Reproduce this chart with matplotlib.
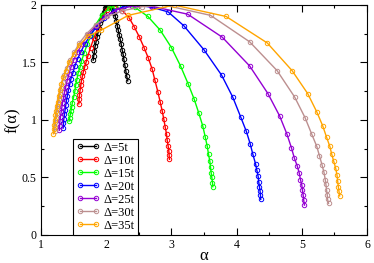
import matplotlib
matplotlib.use("Agg")
import matplotlib.pyplot as plt
from matplotlib.ticker import MultipleLocator

plt.rcParams["font.family"] = ["Liberation Serif", "DejaVu Serif"]

labels = ["Δ=5t", "Δ=10t", "Δ=15t", "Δ=20t", "Δ=25t", "Δ=30t", "Δ=35t"]
colors = ["#000000", "#ff0000", "#00ff00", "#0000ff", "#9400d3", "#bc8f8f", "#ffa500"]

# Δ=5t
a5 = [1.80, 1.81, 1.82, 1.83, 1.845, 1.86, 1.875, 1.89, 1.905, 1.92, 1.94, 1.96, 1.98, 2.00, 2.02,
      2.05, 2.08, 2.105, 2.125, 2.14, 2.155, 2.17, 2.185, 2.20, 2.215, 2.23, 2.245, 2.26, 2.27,
      2.285, 2.30, 2.315, 2.33]
f5 = [1.52, 1.56, 1.60, 1.64, 1.68, 1.72, 1.76, 1.80, 1.84, 1.87, 1.91, 1.94, 1.97, 1.99, 2.00,
      1.995, 1.98, 1.96, 1.93, 1.90, 1.86, 1.82, 1.78, 1.74, 1.70, 1.66, 1.61, 1.57, 1.53,
      1.48, 1.43, 1.38, 1.34]

# Δ=10t
a10 = [1.58, 1.585, 1.59, 1.60, 1.61, 1.62, 1.635, 1.65, 1.67, 1.69, 1.72, 1.76, 1.81, 1.87, 1.94,
       2.01, 2.07, 2.14, 2.25, 2.35, 2.43, 2.51, 2.58, 2.645, 2.705, 2.746, 2.792, 2.827, 2.858,
       2.884, 2.904, 2.925, 2.935, 2.95, 2.96, 2.965, 2.97]
f10 = [1.14, 1.18, 1.22, 1.26, 1.30, 1.34, 1.38, 1.42, 1.46, 1.50, 1.56, 1.63, 1.71, 1.80, 1.89,
       1.96, 2.00, 1.99, 1.95, 1.89, 1.81, 1.72, 1.63, 1.54, 1.443, 1.348, 1.246, 1.159, 1.081,
       1.006, 0.942, 0.878, 0.826, 0.774, 0.733, 0.696, 0.658]

# Δ=15t
a15 = [1.43, 1.44, 1.45, 1.46, 1.47, 1.48, 1.50, 1.52, 1.53, 1.55, 1.57, 1.60, 1.62, 1.66, 1.71,
       1.77, 1.84, 1.93, 2.04, 2.14, 2.24, 2.44, 2.64, 2.83, 3.00, 3.14, 3.26, 3.35, 3.42, 3.48,
       3.52, 3.55, 3.57, 3.59, 3.60, 3.61, 3.62, 3.63, 3.635]
f15 = [0.99, 1.02, 1.05, 1.08, 1.11, 1.15, 1.20, 1.25, 1.30, 1.35, 1.41, 1.46, 1.51, 1.58, 1.66,
       1.74, 1.83, 1.91, 1.97, 1.995, 2.00, 1.98, 1.90, 1.78, 1.63, 1.47, 1.31, 1.18, 1.06, 0.95,
       0.85, 0.77, 0.70, 0.64, 0.59, 0.54, 0.50, 0.455, 0.42]

# Δ=20t
a20 = [1.34, 1.345, 1.35, 1.36, 1.37, 1.38, 1.39, 1.405, 1.42, 1.44, 1.46, 1.49, 1.52, 1.56, 1.61,
       1.67, 1.75, 1.85, 1.97, 2.12, 2.28, 2.46, 2.70, 2.95, 3.19, 3.50, 3.77, 3.94, 4.06, 4.15,
       4.21, 4.25, 4.29, 4.31, 4.33, 4.34, 4.35, 4.36, 4.365, 4.37]
f20 = [0.93, 0.97, 1.01, 1.05, 1.09, 1.13, 1.17, 1.21, 1.26, 1.31, 1.36, 1.41, 1.47, 1.53, 1.59,
       1.66, 1.73, 1.81, 1.89, 1.95, 1.99, 2.00, 1.98, 1.94, 1.82, 1.61, 1.39, 1.20, 1.03, 0.90,
       0.79, 0.70, 0.62, 0.565, 0.51, 0.46, 0.42, 0.38, 0.35, 0.31]

# Δ=25t
a25 = [1.28, 1.285, 1.29, 1.30, 1.31, 1.32, 1.33, 1.345, 1.36, 1.38, 1.40, 1.43, 1.46, 1.50, 1.56,
       1.63, 1.72, 1.84, 1.99, 2.17, 2.40, 2.69, 3.25, 3.78, 4.20, 4.48, 4.66, 4.77, 4.84, 4.885,
       4.93, 4.96, 4.98, 5.00, 5.01, 5.02, 5.03, 5.04]
f25 = [0.91, 0.95, 0.99, 1.03, 1.07, 1.11, 1.15, 1.19, 1.24, 1.29, 1.34, 1.40, 1.46, 1.52, 1.59,
       1.66, 1.74, 1.82, 1.90, 1.96, 1.99, 1.99, 1.92, 1.72, 1.47, 1.23, 1.035, 0.88, 0.76, 0.67,
       0.60, 0.54, 0.48, 0.435, 0.39, 0.35, 0.30, 0.26]

# Δ=30t
a30 = [1.21, 1.215, 1.22, 1.23, 1.24, 1.25, 1.26, 1.275, 1.29, 1.31, 1.33, 1.36, 1.40, 1.45, 1.51,
       1.59, 1.70, 1.84, 2.02, 2.25, 2.55, 2.89, 3.60, 4.20, 4.62, 4.89, 5.05, 5.15, 5.23, 5.27,
       5.31, 5.34, 5.36, 5.37, 5.38, 5.39, 5.395, 5.41]
f30 = [0.90, 0.94, 0.98, 1.02, 1.06, 1.10, 1.14, 1.18, 1.23, 1.28, 1.33, 1.39, 1.45, 1.52, 1.59,
       1.67, 1.75, 1.83, 1.90, 1.95, 1.985, 2.00, 1.91, 1.68, 1.43, 1.20, 1.02, 0.88, 0.77, 0.69,
       0.61, 0.545, 0.48, 0.44, 0.39, 0.35, 0.31, 0.275]

# Δ=35t
a35 = [1.19, 1.195, 1.20, 1.21, 1.22, 1.23, 1.24, 1.255, 1.27, 1.29, 1.31, 1.34, 1.38, 1.43, 1.50,
       1.59, 1.72, 1.92, 2.34, 3.04, 3.84, 4.47, 4.85, 5.09, 5.23, 5.32, 5.38, 5.43, 5.46, 5.49,
       5.52, 5.54, 5.55, 5.56, 5.57, 5.58]
f35 = [0.88, 0.92, 0.96, 1.00, 1.04, 1.08, 1.12, 1.16, 1.21, 1.26, 1.31, 1.37, 1.43, 1.50, 1.57,
       1.65, 1.73, 1.78, 1.91, 2.00, 1.90, 1.67, 1.43, 1.23, 1.07, 0.95, 0.85, 0.77, 0.70, 0.64,
       0.58, 0.52, 0.47, 0.42, 0.38, 0.34]

alphas = [a5, a10, a15, a20, a25, a30, a35]
fvals = [f5, f10, f15, f20, f25, f30, f35]

fig = plt.figure(figsize=(3.74, 2.63), dpi=100)
ax = fig.add_axes([0.1096, 0.1065, 0.8717, 0.8745])

for a, f, c, lab in zip(alphas, fvals, colors, labels):
    ax.plot(a, f, "-o", color=c, lw=1.0, ms=3.2, mfc="none", mew=0.7, label=lab)

ax.set_xlim(1, 6)
ax.set_ylim(0, 2)
ax.xaxis.set_major_locator(MultipleLocator(1))
ax.xaxis.set_minor_locator(MultipleLocator(0.5))
ax.yaxis.set_major_locator(MultipleLocator(0.5))
ax.yaxis.set_minor_locator(MultipleLocator(0.25))
ax.set_yticks([0, 0.5, 1, 1.5, 2])
ax.set_yticklabels(["0", "0.5", "1", "1.5", "2"])
ax.tick_params(which="both", direction="in", top=True, right=True, labelsize=8.5, pad=3)
ax.tick_params(which="major", length=5, width=0.8)
ax.tick_params(which="minor", length=2.5, width=0.8)
for s in ax.spines.values():
    s.set_linewidth(0.8)

ax.set_xlabel("α", fontsize=12, labelpad=-2)
ax.set_ylabel("f(α)", fontsize=12, labelpad=1)

leg = ax.legend(loc="lower left", bbox_to_anchor=(0.098, 0.0), borderaxespad=0,
                fontsize=9, numpoints=2, handlelength=1.9, handletextpad=0.3,
                labelspacing=0.08, borderpad=0.25, fancybox=False, framealpha=1)
leg.get_frame().set_edgecolor("black")
leg.get_frame().set_linewidth(0.8)

fig.savefig("out.png", dpi=100)
